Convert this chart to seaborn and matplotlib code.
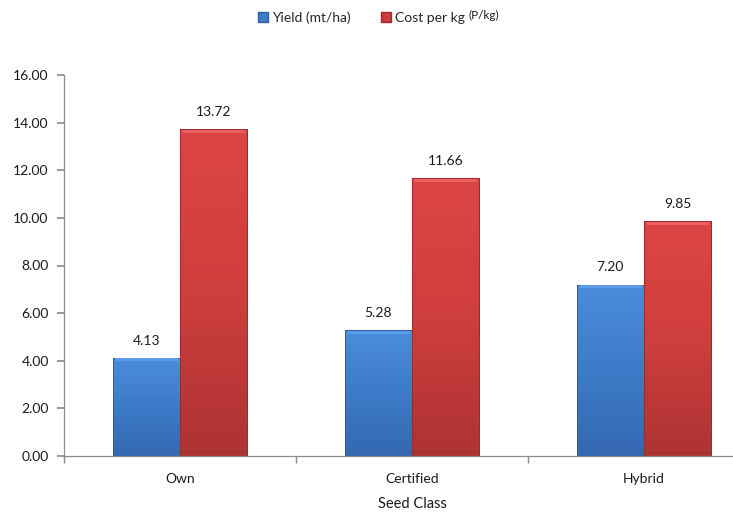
import numpy as np
import pandas as pd
import matplotlib
matplotlib.use("Agg")
import matplotlib.pyplot as plt
import seaborn as sns
from matplotlib.patches import Patch
from matplotlib.colors import LinearSegmentedColormap

# --- data -------------------------------------------------------------
seed_class = ["Own", "Certified", "Hybrid"]
yield_mt_ha = [4.13, 5.28, 7.20]
cost_per_kg = [13.72, 11.66, 9.85]
series_names = ["Yield (mt/ha)", "Cost per kg"]
y_ticks = [0, 2, 4, 6, 8, 10, 12, 14, 16]

df = pd.DataFrame({
    "Seed Class": seed_class * 2,
    "series": [series_names[0]] * 3 + [series_names[1]] * 3,
    "value": yield_mt_ha + cost_per_kg,
})

sns.set_theme(style="white")
plt.rcParams["font.family"] = ["Lato", "DejaVu Sans"]

blue, red = "#3d7cc9", "#cc3c3c"
grad = {
    blue: ("#4a8ddb", "#3d7bc8", "#3468b1", "#5d9ce6", "#2e5d9c"),
    red: ("#dc4545", "#cf3e3e", "#ad3333", "#e86060", "#9a2b2b"),
}

fig = plt.figure(figsize=(7.33, 5.13), dpi=100)
ax = fig.add_axes([64 / 733, 57 / 513, 696 / 733, 381 / 513])

sns.barplot(data=df, x="Seed Class", y="value", hue="series",
            palette=[blue, red], width=0.58, ax=ax, legend=False,
            saturation=1, edgecolor="none")

ax.set_xlim(-0.5, 2.5)
ax.set_ylim(0, 16)

# vertical shading inside each bar, light at the top
bars = list(ax.patches)
for patch, col in zip(bars, [blue] * 3 + [red] * 3):
    x0, y0 = patch.get_x(), patch.get_y()
    w, h = patch.get_width(), patch.get_height()
    top, mid, bot, hi, edge = grad[col]
    cmap = LinearSegmentedColormap.from_list("g", [top, mid, bot])
    g = np.linspace(0, 1, 256).reshape(-1, 1)
    z = patch.get_zorder()
    im = ax.imshow(g, cmap=cmap, aspect="auto", origin="upper",
                   extent=(x0, x0 + w, y0, y0 + h),
                   zorder=z + 0.1, interpolation="bicubic")
    im.set_clip_path(patch)
    ax.add_patch(plt.Rectangle((x0, y0), w, h, fill=False,
                               edgecolor=edge, linewidth=0.7, zorder=z + 0.2))
    ax.plot([x0 + 0.01, x0 + w - 0.01], [y0 + h - 0.07] * 2, color=hi,
            linewidth=2.2, solid_capstyle="butt", zorder=z + 0.3)

ax.set_xlim(-0.5, 2.5)
ax.set_ylim(0, 16)

# value labels
for patch in bars:
    ax.annotate(f"{patch.get_height():.2f}",
                (patch.get_x() + patch.get_width() / 2, patch.get_height()),
                xytext=(0, 8), textcoords="offset points",
                ha="center", va="bottom", fontsize=10, color="#1a1a1a")

# axes styling
for s in ["top", "right"]:
    ax.spines[s].set_visible(False)
for s in ["left", "bottom"]:
    ax.spines[s].set_color("#8c8c8c")
    ax.spines[s].set_linewidth(0.9)

ax.set_yticks(y_ticks)
ax.set_yticklabels([f"{v:.2f}" for v in y_ticks], fontsize=10, color="#1a1a1a")
ax.tick_params(axis="y", which="major", direction="out", length=5,
               color="#8c8c8c", left=True, pad=6)
ax.set_xticks(range(len(seed_class)))
ax.set_xticklabels(seed_class, fontsize=10, color="#1a1a1a")
ax.set_xticks([-0.5, 0.5, 1.5, 2.5], minor=True)
ax.tick_params(axis="x", which="major", length=0, pad=12)
ax.tick_params(axis="x", which="minor", direction="out", length=5,
               color="#8c8c8c", bottom=True)
ax.set_xlabel("Seed Class", fontsize=10.5, color="#1a1a1a", labelpad=9)
ax.set_ylabel("")

# legend
handles = [Patch(facecolor=blue, edgecolor="#2f5f9e"),
           Patch(facecolor=red, edgecolor="#9e2c2c")]
leg = fig.legend(handles, series_names, loc="center", ncol=2,
                 bbox_to_anchor=(0.493, 0.965), frameon=False, fontsize=10,
                 handlelength=0.75, handleheight=0.75, handletextpad=0.3,
                 columnspacing=2.15)
fig.canvas.draw()
bb = leg.get_texts()[1].get_window_extent()
fx, fy = fig.transFigure.inverted().transform((bb.x1, bb.y0))
fig.text(fx + 0.004, fy + 0.006, "(P/kg)", fontsize=8.5, color="#1a1a1a",
         ha="left", va="bottom")

fig.savefig("out.png", dpi=100)
